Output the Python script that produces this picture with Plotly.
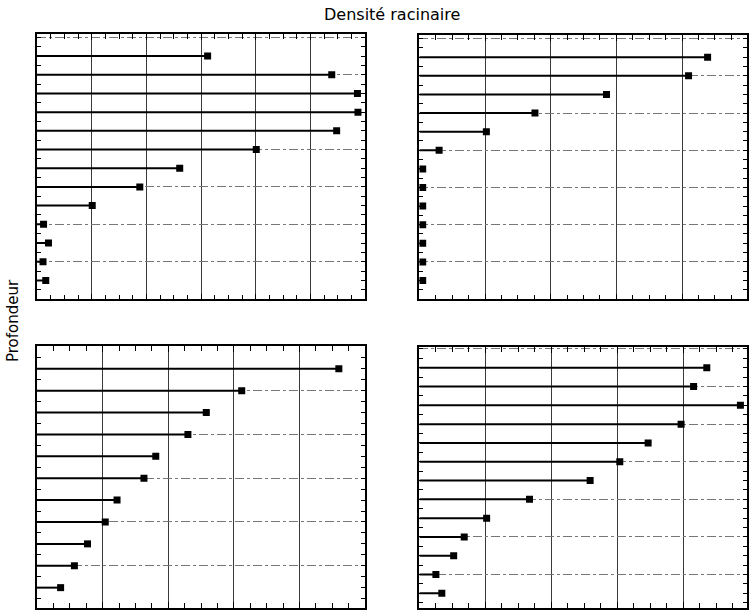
import plotly.graph_objects as go

# Depth levels (stem positions) per panel
depth_tl = list(range(1, 14))
depth_tr = list(range(1, 14))
depth_bl = list(range(1, 12))
depth_br = list(range(1, 14))

# Root density values
dens_tl = [3.12, 5.39, 5.86, 5.87, 5.48, 4.01, 2.61, 1.88, 1.01, 0.12, 0.21, 0.11, 0.16]
dens_tr = [4.39, 4.10, 2.85, 1.76, 1.02, 0.30, 0.05, 0.05, 0.05, 0.05, 0.05, 0.05, 0.05]
dens_bl = [4.60, 3.12, 2.58, 2.30, 1.81, 1.63, 1.22, 1.04, 0.77, 0.57, 0.36]
dens_br = [4.36, 4.16, 4.87, 3.97, 3.47, 3.04, 2.59, 1.67, 1.02, 0.68, 0.52, 0.25, 0.34]

title_x = "Densité racinaire"
title_y = "Profondeur"

panels = [
    # (depths, values, x-axis key, y-axis key, x domain, y domain, x range, y range)
    (depth_tl, dens_tl, "x", "y", [0.0, 0.4621], [0.5375, 1.0], [0, 6.0], [14.02, -0.18]),
    (depth_tr, dens_tr, "x2", "y2", [0.5386, 1.0], [0.5375, 0.9977], [0, 4.99], [14.02, -0.18]),
    (depth_bl, dens_bl, "x3", "y3", [0.0, 0.4621], [0.0, 0.4556], [0, 5.0], [11.93, -0.02]),
    (depth_br, dens_br, "x4", "y4", [0.5386, 1.0], [0.0, 0.4539], [0, 4.97], [13.78, -0.08]),
]

fig = go.Figure()
layout = {}
for depths, vals, xa, ya, xd, yd, xr, yr in panels:
    sx, sy = [], []
    for d, v in zip(depths, vals):
        sx += [0, v, None]
        sy += [d, d, None]
    fig.add_trace(go.Scatter(x=sx, y=sy, mode="lines", xaxis=xa, yaxis=ya,
                             line=dict(color="black", width=2), hoverinfo="skip",
                             showlegend=False))
    fig.add_trace(go.Scatter(x=vals, y=depths, mode="markers", xaxis=xa, yaxis=ya,
                             marker=dict(symbol="square", size=7, color="black"),
                             showlegend=False))
    xname = "xaxis" + xa[1:]
    yname = "yaxis" + ya[1:]
    layout[xname] = dict(
        domain=xd, range=xr, anchor=ya, showticklabels=False,
        showline=True, linecolor="black", linewidth=1.5, mirror="allticks",
        ticks="inside", ticklen=6, tickcolor="black", dtick=1, tick0=0,
        showgrid=True, gridcolor="#3a3a3a", gridwidth=1, zeroline=False,
        minor=dict(ticks="inside", ticklen=5, dtick=0.25, tick0=0, tickcolor="black",
                   showgrid=False),
    )
    layout[yname] = dict(
        domain=yd, range=yr, anchor=xa, showticklabels=False,
        showline=True, linecolor="black", linewidth=1.5, mirror="allticks",
        ticks="inside", ticklen=4, tickcolor="black", dtick=2, tick0=0,
        showgrid=True, gridcolor="#777777", gridwidth=1, griddash="dashdot",
        zeroline=False,
        minor=dict(ticks="inside", ticklen=4, dtick=0.5, tick0=0, tickcolor="black",
                   showgrid=False),
    )

fig.update_layout(
    width=749, height=610,
    margin=dict(l=37, r=0, t=34, b=2),
    paper_bgcolor="white", plot_bgcolor="white",
    font=dict(family="DejaVu Sans", color="black"),
    annotations=[
        dict(text=title_x, xref="paper", yref="paper", x=0.5, y=1.0, yshift=20,
             xanchor="center", yanchor="middle", showarrow=False,
             font=dict(size=16, color="black", family="DejaVu Sans")),
        dict(text=title_y, xref="paper", yref="paper", x=0.0, y=0.5, xshift=-24,
             xanchor="center", yanchor="middle", showarrow=False, textangle=-90,
             font=dict(size=15, color="black", family="DejaVu Sans")),
    ],
    **layout,
)

fig.write_html("out.html")
